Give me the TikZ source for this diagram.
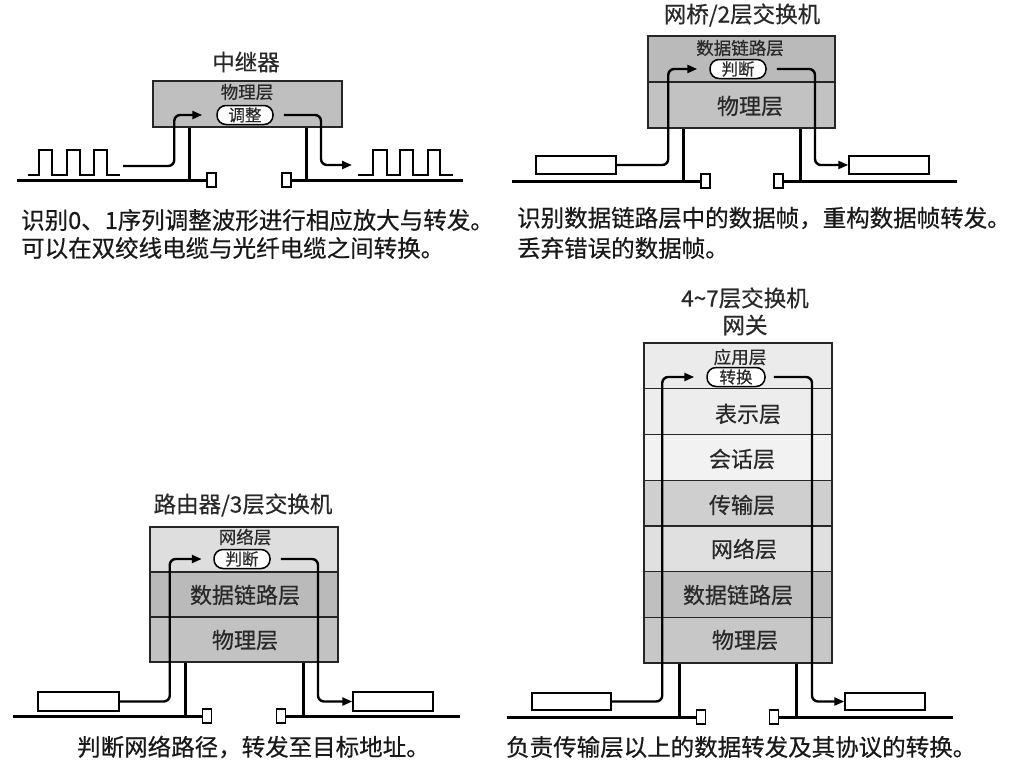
\documentclass[tikz,border=0pt]{standalone}
\usepackage{fontspec}
\newfontfamily\cjk[FakeBold=0.5]{Noto Sans CJK SC}
\usetikzlibrary{arrows.meta}
\definecolor{tcol}{gray}{0.16}
\definecolor{lcol}{gray}{0.15}
\definecolor{gA}{gray}{0.75}
\definecolor{gBt}{gray}{0.73}
\definecolor{gBb}{gray}{0.76}
\definecolor{gCt}{gray}{0.87}
\definecolor{gCm}{gray}{0.73}
\definecolor{gCb}{gray}{0.76}
\definecolor{gD1}{gray}{0.92}
\definecolor{gD2}{gray}{0.93}
\definecolor{gD3}{gray}{0.95}
\definecolor{gD4}{gray}{0.81}
\definecolor{gD5}{gray}{0.88}
\definecolor{gD6}{gray}{0.75}
\definecolor{gD7}{gray}{0.78}
\begin{document}
\begin{tikzpicture}[x=1pt,y=-1pt,
  txt/.style={text=tcol, inner sep=0pt},
  big/.style={txt, font=\cjk\fontsize{22.5}{26}\selectfont},
  captxt/.style={txt, text=black!90, font=\cjk\fontsize{23.5}{27}\selectfont, anchor=west},
  lbl/.style={txt, font=\cjk\fontsize{22}{26}\selectfont},
  sml/.style={txt, font=\cjk\fontsize{17.5}{20}\selectfont},
  layer/.style={draw=lcol, line width=1.3pt, minimum width=188pt, minimum height=45.7pt, inner sep=0pt},
  pill/.style={draw=black, line width=1.5pt, fill=white, rounded corners=9pt, minimum width=56pt, minimum height=19pt, inner sep=0pt, text=tcol, font=\cjk\fontsize{16.5}{18}\selectfont},
  pkt/.style={draw=black, line width=1.5pt, fill=white, inner sep=0pt, minimum height=18pt, minimum width=80pt},
  sq/.style={draw=black, line width=1.6pt, fill=white, inner sep=0pt, minimum width=9pt, minimum height=14pt},
  ground/.style={line width=3pt},
  stub/.style={line width=3pt},
  flow/.style={line width=2.4pt, rounded corners=6pt, -{Triangle[length=10pt,width=8pt]}},
  pulse/.style={line width=1.5pt}
]
\fill[white] (0,0) rectangle (1028,772);
\useasboundingbox (0,0) rectangle (1028,772);

%% ---------------- Panel 1: repeater ----------------
\node[big] (t1) at (246,62) {中继器};
\node[layer, minimum width=189pt, minimum height=46pt, fill=gA] (b1) at (247.5,104) {};
\node[sml] (b1l) at (247,92) {物理层};
\node[pill] (b1p) at (245,115) {调整};
\draw[stub] (b1.south -| 189,0) -- (189,180);
\draw[stub] (b1.south -| 306,0) -- (306,180);
\node[sq] (s1L) at (211.5,180) {};
\node[sq] (s1R) at (286.5,180) {};
\coordinate (g1a) at (17,180);
\coordinate (g1b) at (463,180);
\draw[ground] (g1a) -- (s1L.west);
\draw[ground] (s1R.east) -- (g1b);
\draw[pulse] (28,175) -- (39,175) -- (39,150) -- (52,150) -- (52,175) -- (67,175) -- (67,150) -- (80,150) -- (80,175) -- (94,175) -- (94,150) -- (107,150) -- (107,175) -- (120,175);
\draw[pulse] (358,175) -- (373,175) -- (373,150) -- (387,150) -- (387,175) -- (400,175) -- (400,150) -- (413,150) -- (413,175) -- (428,175) -- (428,150) -- (440,150) -- (440,175) -- (453,175);
\coordinate (a1s) at (123,166);
\coordinate (a1e) at (352,165);
\draw[flow] (a1s) -| ([xshift=-42pt]b1p.west) -- ([xshift=-14pt]b1p.west);
\draw[flow] ([xshift=10pt]b1p.east) -| (a1e -| 321,0) -- (a1e);
\node[captxt] (c1a) at (21,220) {识别0、1序列调整波形进行相应放大与转发。};
\node[captxt] (c1b) at (21,248) {可以在双绞线电缆与光纤电缆之间转换。};

%% ---------------- Panel 2: bridge ----------------
\node[big] (t2) at (742,15) {网桥/2层交换机};
\node[layer, minimum width=187pt, minimum height=46pt, fill=gBt] (b2a) at (741.5,59) {};
\node[layer, minimum width=187pt, minimum height=46pt, fill=gBb] (b2b) at (741.5,105) {};
\node[sml] (b2al) at (740,48) {数据链路层};
\node[pill] (b2p) at (738,69) {判断};
\node[lbl] (b2bl) at (750,106) {物理层};
\draw[stub] (b2b.south -| 683,0) -- (683,181);
\draw[stub] (b2b.south -| 800,0) -- (800,181);
\node[sq] (s2L) at (705.5,181) {};
\node[sq] (s2R) at (778.5,181) {};
\coordinate (g2a) at (512,181);
\coordinate (g2b) at (957,181);
\draw[ground] (g2a) -- (s2L.west);
\draw[ground] (s2R.east) -- (g2b);
\node[pkt] (k2L) at (576,165) {};
\node[pkt] (k2R) at (889,165) {};
\draw[flow] (k2L.east) -| ([xshift=-41pt]b2p.west) -- ([xshift=-12pt]b2p.west);
\draw[flow] ([xshift=10pt]b2p.east) -| (k2R.west -| 815,0) -- (k2R.west);
\node[captxt] (c2a) at (517,218) {识别数据链路层中的数据帧，重构数据帧转发。};
\node[captxt] (c2b) at (517,248) {丢弃错误的数据帧。};

%% ---------------- Panel 3: router ----------------
\node[big] (t3) at (243,505) {路由器/3层交换机};
\node[layer, fill=gCt, minimum height=45pt] (b3a) at (244,549.5) {};
\node[layer, fill=gCm, minimum height=45pt] (b3b) at (244,594.5) {};
\node[layer, fill=gCb, minimum height=45pt] (b3c) at (244,639.5) {};
\node[sml] (b3al) at (245,537) {网络层};
\node[pill] (b3p) at (242,559) {判断};
\node[lbl] (b3bl) at (245,595) {数据链路层};
\node[lbl] (b3cl) at (245,640) {物理层};
\draw[stub] (b3c.south -| 185,0) -- (185,716);
\draw[stub] (b3c.south -| 303,0) -- (303,716);
\node[sq] (s3L) at (207,716) {};
\node[sq] (s3R) at (281,716) {};
\coordinate (g3a) at (13,716);
\coordinate (g3b) at (460,716);
\draw[ground] (g3a) -- (s3L.west);
\draw[ground] (s3R.east) -- (g3b);
\node[pkt, minimum width=81pt, minimum height=19pt] (k3L) at (78.5,701.5) {};
\node[pkt, minimum height=19pt] (k3R) at (393,701.5) {};
\draw[flow] (k3L.east) -| ([xshift=-43.5pt]b3p.west) -- ([xshift=-11.5pt]b3p.west);
\draw[flow] ([xshift=10pt]b3p.east) -| (k3R.west -| 318,0) -- (k3R.west);
\node[captxt] (c3) at (77,747) {判断网络路径，转发至目标地址。};

%% ---------------- Panel 4: gateway ----------------
\node[big] (t4a) at (745,298) {4\textasciitilde 7层交换机};
\node[big] (t4b) at (745,325) {网关};
\node[layer, fill=gD1] (b4a) at (738,365.9) {};
\node[layer, fill=gD2] (b4b) at (738,411.6) {};
\node[layer, fill=gD3] (b4c) at (738,457.3) {};
\node[layer, fill=gD4] (b4d) at (738,503.0) {};
\node[layer, fill=gD5] (b4e) at (738,548.7) {};
\node[layer, fill=gD6] (b4f) at (738,594.4) {};
\node[layer, fill=gD7] (b4g) at (738,640.1) {};
\node[sml] (b4al) at (740,357) {应用层};
\node[pill, minimum width=58pt] (b4p) at (736,377) {转换};
\node[lbl] (b4bl) at (748,414) {表示层};
\node[lbl] (b4cl) at (742,459) {会话层};
\node[lbl] (b4dl) at (742,505) {传输层};
\node[lbl] (b4el) at (744,549) {网络层};
\node[lbl] (b4fl) at (738,595) {数据链路层};
\node[lbl] (b4gl) at (745,640) {物理层};
\draw[stub] (b4g.south -| 679,0) -- (679,717);
\draw[stub] (b4g.south -| 796,0) -- (796,717);
\node[sq] (s4L) at (701,717) {};
\node[sq] (s4R) at (774,717) {};
\coordinate (g4a) at (507,717);
\coordinate (g4b) at (953,717);
\draw[ground] (g4a) -- (s4L.west);
\draw[ground] (s4R.east) -- (g4b);
\node[pkt, minimum width=79pt, minimum height=17pt] (k4L) at (571.5,701.5) {};
\node[pkt, minimum height=17pt] (k4R) at (885,701.5) {};
\draw[flow] (k4L.east) -| ([xshift=-44pt]b4p.west) -- ([xshift=-12pt]b4p.west);
\draw[flow] ([xshift=8pt]b4p.east) -| (k4R.west -| 812,0) -- (k4R.west);
\node[captxt] (c4) at (506,747) {负责传输层以上的数据转发及其协议的转换。};
\end{tikzpicture}
\end{document}
